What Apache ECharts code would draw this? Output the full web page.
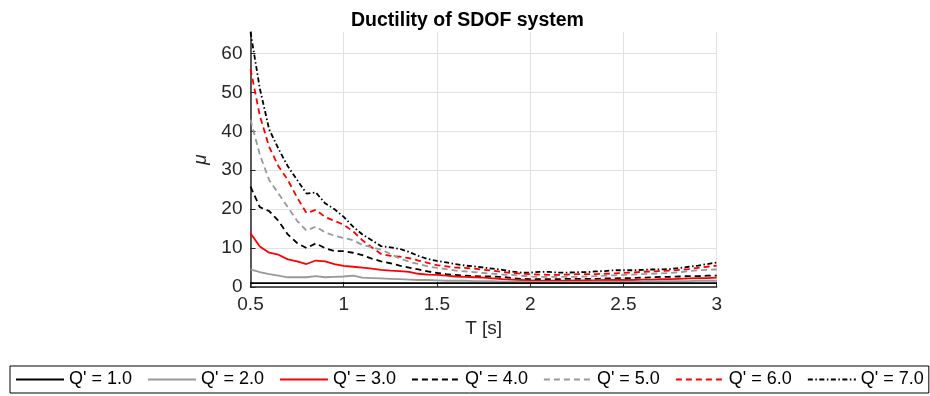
<!DOCTYPE html>
<html>
<head>
<meta charset="utf-8">
<script src="https://cdn.jsdelivr.net/npm/echarts@6/dist/echarts.min.js"></script>
<style>html,body{margin:0;padding:0;background:#fff}#c{width:930px;height:396px}</style>
</head>
<body>
<div id="c"></div>
<script>
const T = [0.5,0.55,0.6,0.65,0.7,0.75,0.8,0.85,0.9,0.95,1.0,1.05,1.1,1.15,1.2,1.25,1.3,1.35,1.4,1.45,1.5,1.55,1.6,1.65,1.7,1.75,1.8,1.85,1.9,1.95,2.0,2.05,2.1,2.15,2.2,2.25,2.3,2.35,2.4,2.45,2.5,2.55,2.6,2.65,2.7,2.75,2.8,2.85,2.9,2.95,3.0];
const q1 = [1,1,1,1,1,1,1,1,1,1,1,1,1,1,1,1,1,1,1,1,1,1,1,1,1,1,1,1,1,1,1,1,1,1,1,1,1,1,1,1,1,1,1,1,1,1,1,1,1,1,1];
const q2 = [4.5,3.8,3.3,2.9,2.5,2.5,2.5,2.8,2.5,2.6,2.7,2.9,2.4,2.3,2.2,2.1,2.0,1.9,1.8,1.8,1.7,1.6,1.6,1.6,1.5,1.5,1.5,1.4,1.4,1.4,1.3,1.3,1.3,1.3,1.3,1.3,1.3,1.4,1.4,1.4,1.4,1.4,1.4,1.5,1.5,1.5,1.5,1.5,1.6,1.6,1.6];
const q3 = [13.8,10.4,8.8,8.3,7.1,6.6,5.9,6.8,6.6,5.9,5.4,5.2,5.0,4.7,4.4,4.2,4.1,3.9,3.4,3.2,3.1,2.9,2.7,2.6,2.5,2.4,2.2,2.0,1.9,1.8,1.7,1.6,1.6,1.6,1.6,1.7,1.7,1.7,1.8,1.8,1.8,1.8,1.9,1.9,2.0,2.0,2.1,2.2,2.3,2.3,2.4];
const q4 = [25.8,20.5,19.5,17,13.5,11.3,10,11.2,10,9.2,9.2,8.8,8.2,7.3,6.6,6.1,5.5,5.0,4.5,4.0,3.6,3.3,3.1,2.9,2.8,2.7,2.7,2.6,2.3,2.1,2.0,2.0,2.0,2.0,2.1,2.1,2.1,2.1,2.2,2.2,2.3,2.3,2.4,2.5,2.6,2.6,2.7,2.8,2.8,2.9,2.9];
const q5 = [43,34,27.5,24,20.5,17,14.5,15.5,14,13.2,12.6,12,10.8,10.2,9.6,8.5,7.3,6.5,5.9,5.3,4.9,4.6,4.2,4.0,3.8,3.6,3.4,3.2,3.1,2.9,2.7,2.6,2.6,2.6,2.6,2.6,2.7,2.8,2.9,3.0,3.1,3.2,3.3,3.4,3.5,3.6,3.8,4.1,4.3,4.4,4.5];
const q6 = [56,44,36,31,27.5,23,19,19.8,18,17,16,14.3,12,10.2,8.5,8,7.8,7.4,6.8,6.2,5.6,5.3,5.0,4.9,4.7,4.4,4.2,3.9,3.6,3.4,3.3,3.2,3.1,3.1,3.2,3.3,3.3,3.3,3.4,3.5,3.6,3.7,3.9,4.0,4.1,4.2,4.4,4.6,4.9,5.2,5.5];
const q7 = [65.5,51,40.5,35.5,31,27.5,24,24.3,21.5,20,18,15.5,13.5,12,10.5,10.2,9.8,9,8,7.2,6.7,6.3,5.9,5.5,5.3,5.0,4.7,4.4,4.0,3.7,3.7,3.9,3.9,3.7,3.7,3.8,3.8,4.0,4.1,4.3,4.3,4.3,4.4,4.5,4.5,4.6,4.9,5.2,5.5,5.9,6.3];
const seriesNames = ["Q' = 1.0","Q' = 2.0","Q' = 3.0","Q' = 4.0","Q' = 5.0","Q' = 6.0","Q' = 7.0"];
const seriesData = [q1,q2,q3,q4,q5,q6,q7];
const styles = [
  {color:'#000000', type:'solid'},
  {color:'#999999', type:'solid'},
  {color:'#ff0000', type:'solid'},
  {color:'#000000', type:[6,4]},
  {color:'#999999', type:[6,4]},
  {color:'#ff0000', type:[6,4]},
  {color:'#000000', type:[5,2.5,1.5,2.5]}
];
const FONT = '"Liberation Sans", Arial, Helvetica, sans-serif';
const chart = echarts.init(document.getElementById('c'), null, {renderer:'canvas'});
chart.setOption({
  animation: false,
  backgroundColor: '#ffffff',
  title: {
    text: 'Ductility of SDOF system',
    left: 346, top: 6,
    textStyle: {fontFamily: FONT, fontSize: 19.5, fontWeight: 'bold', color: '#000'}
  },
  grid: {left: 250.5, right: 213.3, top: 32, bottom: 109, containLabel: false},
  xAxis: {
    type: 'value', min: 0.5, max: 3, interval: 0.5,
    name: 'T [s]', nameLocation: 'middle', nameGap: 30,
    nameTextStyle: {fontFamily: FONT, fontSize: 19, color: '#262626'},
    axisLine: {show: true, lineStyle: {color: '#262626', width: 1.5}},
    axisTick: {show: true, inside: true, length: 5, lineStyle: {color: '#262626'}},
    axisLabel: {fontFamily: FONT, fontSize: 19, color: '#262626', margin: 8},
    splitLine: {show: true, lineStyle: {color: '#e2e2e2', width: 1}}
  },
  yAxis: {
    type: 'value', min: 0, max: 65.5, interval: 10,
    name: 'μ', nameLocation: 'middle', nameGap: 31, nameRotate: 90,
    nameTextStyle: {fontFamily: FONT, fontSize: 19, fontStyle: 'italic', color: '#262626'},
    axisLine: {show: true, lineStyle: {color: '#262626', width: 1.5}},
    axisTick: {show: true, inside: true, length: 5, lineStyle: {color: '#262626'}},
    axisLabel: {fontFamily: FONT, fontSize: 19, color: '#262626', margin: 8, showMaxLabel: false},
    splitLine: {show: true, showMaxLine: false, lineStyle: {color: '#e2e2e2', width: 1}}
  },
  legend: {
    left: 10, top: 366, width: 930,
    orient: 'horizontal',
    itemWidth: 48, itemHeight: 14, itemGap: 15,
    padding: [4, 5, 4, 5],
    borderColor: '#000', borderWidth: 1,
    itemStyle: {opacity: 0},
    textStyle: {fontFamily: FONT, fontSize: 18, color: '#000', lineHeight: 19},
    data: seriesNames
  },
  series: seriesNames.map((n, i) => ({
    name: n, type: 'line', showSymbol: false, symbol: 'none',
    data: T.map((t, j) => [t, seriesData[i][j]]),
    lineStyle: {color: styles[i].color, type: styles[i].type, width: 1.8},
    itemStyle: {color: styles[i].color},
    z: 10 - i
  }))
});
</script>
</body>
</html>
